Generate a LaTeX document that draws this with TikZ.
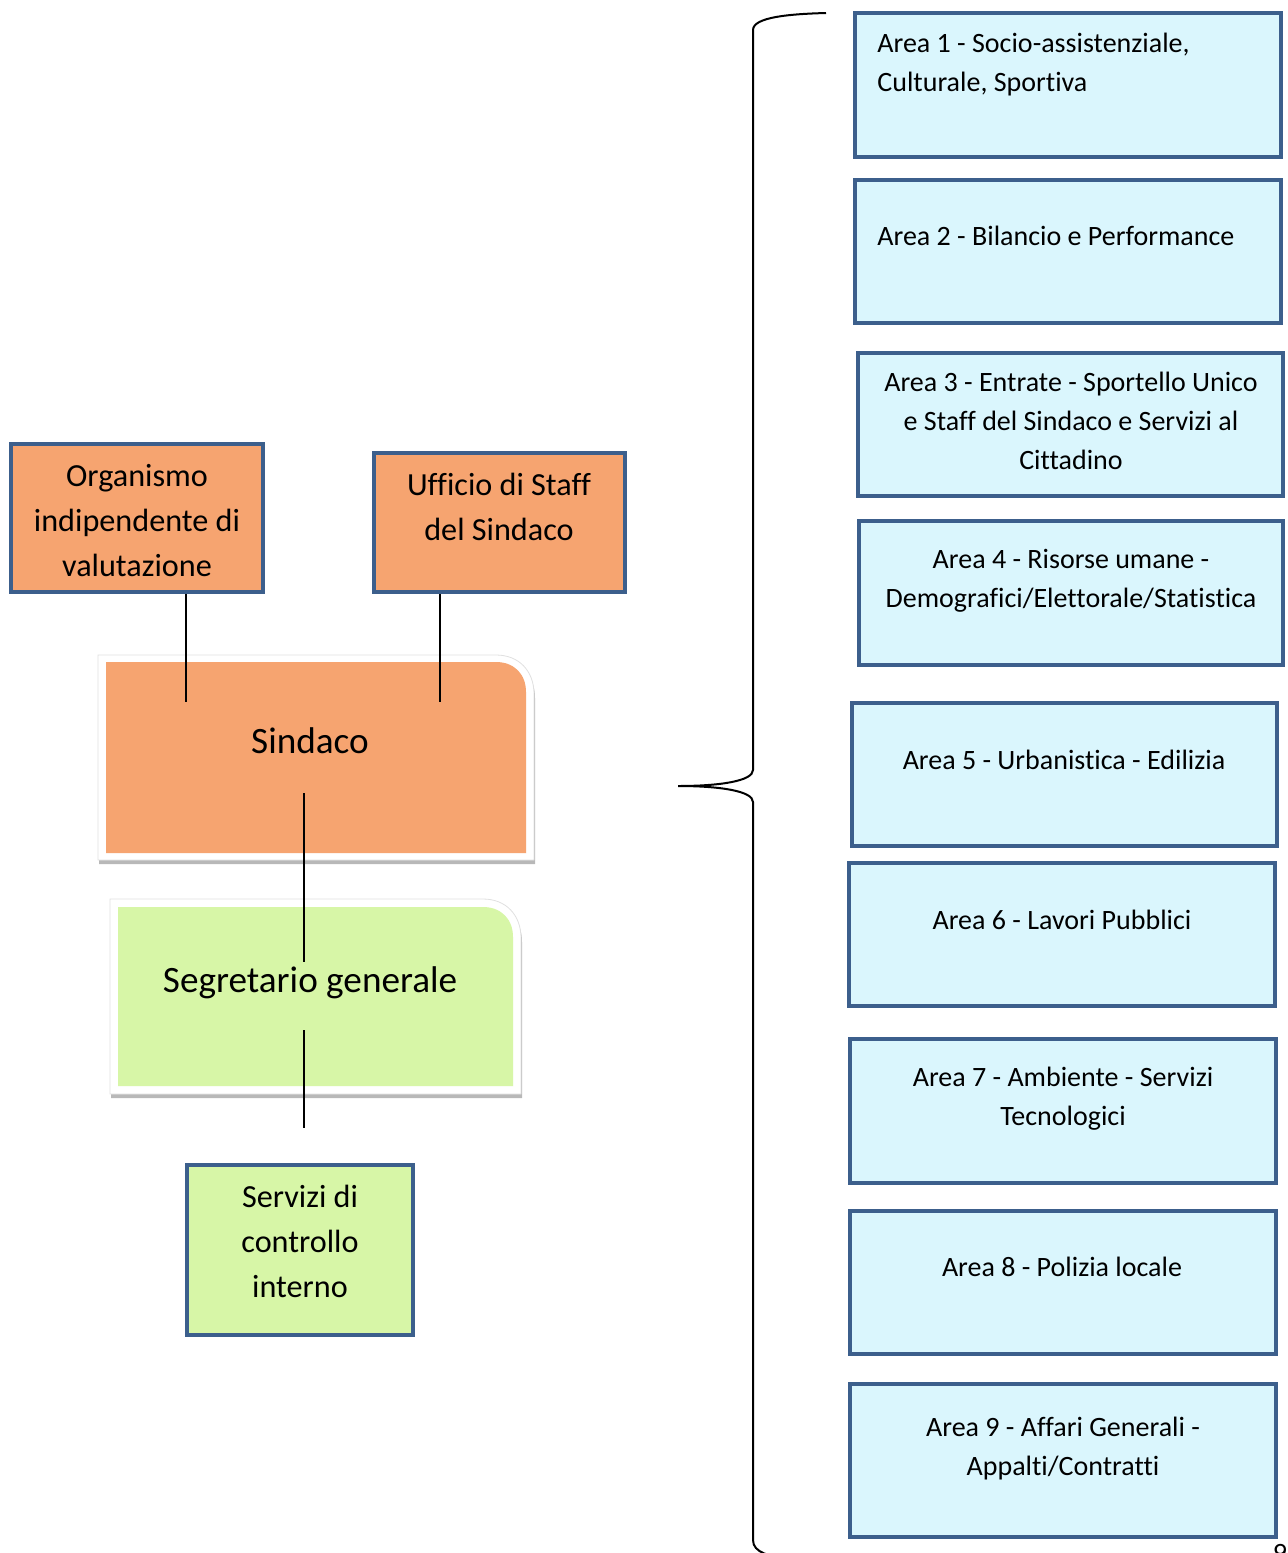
\documentclass[tikz,border=0pt]{standalone}
\usepackage{fontspec}
\setmainfont{Carlito}[Ligatures={NoCommon}]
\usetikzlibrary{fit}
\definecolor{bord}{HTML}{3C5F8C}
\definecolor{orangef}{HTML}{F6A470}
\definecolor{bluef}{HTML}{DAF6FD}
\definecolor{greenf}{HTML}{D7F6A7}
\tikzset{
  boxframe/.style={draw=bord, line width=2pt, inner sep=0pt},
  areatxt/.style={font=\fontsize{14}{19.5}\selectfont, align=center, anchor=base, inner sep=0pt},
  lefttxt/.style={font=\fontsize{16.1}{22.5}\selectfont, align=center, anchor=base, inner sep=0pt},
  bigtxt/.style={font=\fontsize{18.6}{24}\selectfont, anchor=base, inner sep=0pt},
  conn/.style={draw=black, line width=1pt},
  bracestyle/.style={draw=black, line width=1pt},
  shadowfill/.style={fill=black!28},
  framefill/.style={fill=white, draw=black!12, line width=0.4pt}
}
\begin{document}
\begin{tikzpicture}[x=0.5pt,y=-0.5pt]
\useasboundingbox (0,0) rectangle (1287,1553);

% ---- left upper boxes
\node[boxframe, fill=orangef, fit={(11,444) (263,592)}] (org) {};
\node[lefttxt] (orgt) at (137,576) {Organismo\\indipendente di\\valutazione};
\node[boxframe, fill=orangef, fit={(374,453) (625,592)}] (uff) {};
\node[lefttxt] (ufft) at (499,540) {Ufficio di Staff\\del Sindaco};

% ---- Sindaco
\fill[shadowfill] (99,864) -- (99,659) -- (496,659) .. controls (519,659) and (535,675) .. (535,698) -- (535,864) -- cycle;
\path[framefill] (98,860) -- (98,655) -- (496,655) .. controls (519,655) and (534,671) .. (534,694) -- (534,860) -- cycle;
\fill[orangef] (106,853) -- (106,662) -- (496,662) .. controls (514,662) and (526,674) .. (526,692) -- (526,853) -- cycle;
\node[bigtxt] (sind) at (310,753) {Sindaco};

% ---- Segretario
\fill[shadowfill] (111,1098) -- (111,903) -- (483,903) .. controls (506,903) and (522,919) .. (522,942) -- (522,1098) -- cycle;
\path[framefill] (110,1094) -- (110,899) -- (483,899) .. controls (506,899) and (521,915) .. (521,938) -- (521,1094) -- cycle;
\fill[greenf] (118,1086) -- (118,907) -- (483,907) .. controls (501,907) and (513,919) .. (513,937) -- (513,1086) -- cycle;
\node[bigtxt] (segr) at (310,992) {Segretario generale};

% ---- Servizi
\node[boxframe, fill=greenf, fit={(187,1165) (413,1335)}] (serv) {};
\node[lefttxt] (servt) at (300,1297) {Servizi di\\controllo\\interno};

% ---- connectors
\coordinate (c1b) at (186,702);
\draw[conn] (org.south -| c1b) -- (c1b);
\coordinate (c2b) at (440,702);
\draw[conn] (uff.south -| c2b) -- (c2b);
\coordinate (c3a) at (304,793);
\coordinate (c3b) at (304,962);
\draw[conn] (c3a) -- (c3b);
\coordinate (c4a) at (304,1030);
\coordinate (c4b) at (304,1128);
\draw[conn] (c4a) -- (c4b);

% ---- brace
\coordinate (btop) at (826,13);
\coordinate (btip) at (678,786);
\coordinate (bbot) at (790,1560);
\draw[bracestyle] (btop) .. controls (790,14) and (753,17) .. (753,30)
  -- (753,770) .. controls (753,781) and (720,786) .. (btip)
  .. controls (720,786) and (753,791) .. (753,802)
  -- (753,1540) .. controls (753,1553) and (770,1556) .. (bbot);

% ---- area boxes
\node[boxframe, fill=bluef, fit={(855,13) (1281,157)}] (a1) {};
\node[areatxt, align=left, anchor=base west] (a1t) at (877,91) {Area 1 - Socio-assistenziale,\\Culturale, Sportiva};
\node[boxframe, fill=bluef, fit={(855,180) (1281,323)}] (a2) {};
\node[areatxt, anchor=base west] (a2t) at (877,245) {Area 2 - Bilancio e Performance};
\node[boxframe, fill=bluef, fit={(858,353) (1283,496)}] (a3) {};
\node[areatxt] (a3t) at (1071,469) {Area 3 - Entrate - Sportello Unico\\e Staff del Sindaco e Servizi al\\Cittadino};
\node[boxframe, fill=bluef, fit={(859,521) (1283,665)}] (a4) {};
\node[areatxt] (a4t) at (1071,607) {Area 4 - Risorse umane -\\Demografici/Elettorale/Statistica};
\node[boxframe, fill=bluef, fit={(852,703) (1277,846)}] (a5) {};
\node[areatxt] (a5t) at (1064,769) {Area 5 - Urbanistica - Edilizia};
\node[boxframe, fill=bluef, fit={(849,863) (1275,1006)}] (a6) {};
\node[areatxt] (a6t) at (1062,929) {Area 6 - Lavori Pubblici};
\node[boxframe, fill=bluef, fit={(850,1039) (1276,1183)}] (a7) {};
\node[areatxt] (a7t) at (1063,1125) {Area 7 - Ambiente - Servizi\\Tecnologici};
\node[boxframe, fill=bluef, fit={(850,1211) (1276,1354)}] (a8) {};
\node[areatxt] (a8t) at (1062,1276) {Area 8 - Polizia locale};
\node[boxframe, fill=bluef, fit={(850,1384) (1276,1537)}] (a9) {};
\node[areatxt] (a9t) at (1063,1475) {Area 9 - Affari Generali -\\Appalti/Contratti};

% ---- page number (cut off)
\node[areatxt] (pnum) at (1280,1562) {9};
\end{tikzpicture}
\end{document}
